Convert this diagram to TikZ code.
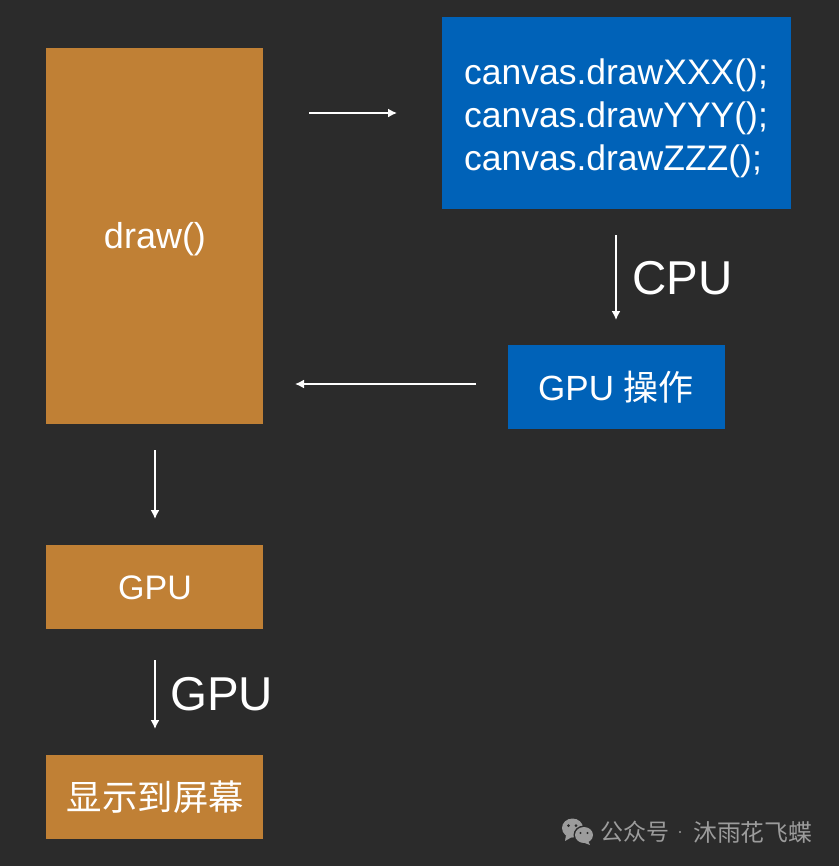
\documentclass[tikz,border=0pt]{standalone}
\usepackage{fontspec}
\setmainfont{Liberation Sans}
\newfontfamily\cjk{Noto Sans CJK SC}
\usetikzlibrary{arrows.meta}
\definecolor{bgdark}{HTML}{2B2B2B}
\definecolor{boxorange}{HTML}{C08035}
\definecolor{boxblue}{HTML}{0062B8}
\definecolor{marktext}{HTML}{9C9C9C}
\tikzset{
  orangebox/.style={fill=boxorange, minimum width=217bp},
  bluebox/.style={fill=boxblue},
  boxtext/.style={text=white, inner sep=0pt},
  flow/.style={draw=white, line width=1.6pt, -{Latex[length=9bp,width=9bp]}},
}
\begin{document}
\begin{tikzpicture}[x=1bp,y=-1bp]
\fill[bgdark] (0,0) rectangle (839,866);
\useasboundingbox (0,0) rectangle (839,866);
% boxes
\node[orangebox, minimum height=376bp] (draw) at (154.5,236) {};
\node[bluebox, minimum width=349bp, minimum height=192bp] (canvas) at (616.5,113) {};
\node[bluebox, minimum width=217bp, minimum height=84bp] (gpuop) at (616.5,387) {};
\node[orangebox, minimum height=84bp] (gpu) at (154.5,587) {};
\node[orangebox, minimum height=84bp] (screen) at (154.5,797) {};
% box texts
\node[boxtext, font=\fontsize{36bp}{43bp}\selectfont] (drawtext) at (155,239.5) {draw()};
\node[boxtext, font=\fontsize{35.5bp}{43bp}\selectfont, align=left] (canvastext) at (616,118) {canvas.drawXXX();\\canvas.drawYYY();\\canvas.drawZZZ();};
\node[boxtext, font=\fontsize{35bp}{40bp}\selectfont] (gpuoptext) at (616,387) {GPU {\cjk 操作}};
\node[boxtext, font=\fontsize{34bp}{40bp}\selectfont] (gputext) at (155,588) {GPU};
\node[boxtext, font=\fontsize{35.4bp}{40bp}\selectfont\cjk] (screentext) at (155.5,797) {显示到屏幕};
% arrows
\coordinate (a1) at (309,113);
\coordinate (a2) at (397,113);
\coordinate (b1) at (616,235);
\coordinate (b2) at (616,320);
\coordinate (c1) at (476,384);
\coordinate (c2) at (295,384);
\coordinate (d1) at (155,450);
\coordinate (d2) at (155,519);
\coordinate (e1) at (155,660);
\coordinate (e2) at (155,729);
\draw[flow] (a1) -- (a2);
\draw[flow] (b1) -- (b2);
\draw[flow] (c1) -- (c2);
\draw[flow] (d1) -- (d2);
\draw[flow] (e1) -- (e2);
\node[text=white, anchor=west, inner sep=0pt, font=\fontsize{47.5bp}{56bp}\selectfont] (cpulabel) at (632,278) {CPU};
\node[text=white, anchor=west, inner sep=0pt, font=\fontsize{47.5bp}{56bp}\selectfont] (gpulabel) at (170,694) {GPU};
% watermark
\fill[marktext] (572.5,828) ellipse[x radius=10.5bp, y radius=9.5bp];
\fill[marktext] (566,835) -- (565,841) -- (572,837) -- cycle;
\fill[bgdark] (584,835) ellipse[x radius=10.5bp, y radius=9.5bp];
\fill[marktext] (584,835) ellipse[x radius=9bp, y radius=8bp];
\fill[marktext] (588,841) -- (590,845) -- (582,842) -- cycle;
\fill[bgdark] (568.5,825.5) circle[radius=1.5bp];
\fill[bgdark] (576,825.5) circle[radius=1.5bp];
\fill[bgdark] (580.5,833) circle[radius=1.2bp];
\fill[bgdark] (587.5,833) circle[radius=1.2bp];
\node[text=marktext, anchor=west, inner sep=0pt, font=\fontsize{23bp}{26bp}\selectfont\cjk] (marka) at (600,832) {公众号};
\fill[marktext] (680,832) circle[radius=1.2bp];
\node[text=marktext, anchor=west, inner sep=0pt, font=\fontsize{23.8bp}{26bp}\selectfont\cjk] (markb) at (693,832) {沐雨花飞蝶};
\end{tikzpicture}
\end{document}
